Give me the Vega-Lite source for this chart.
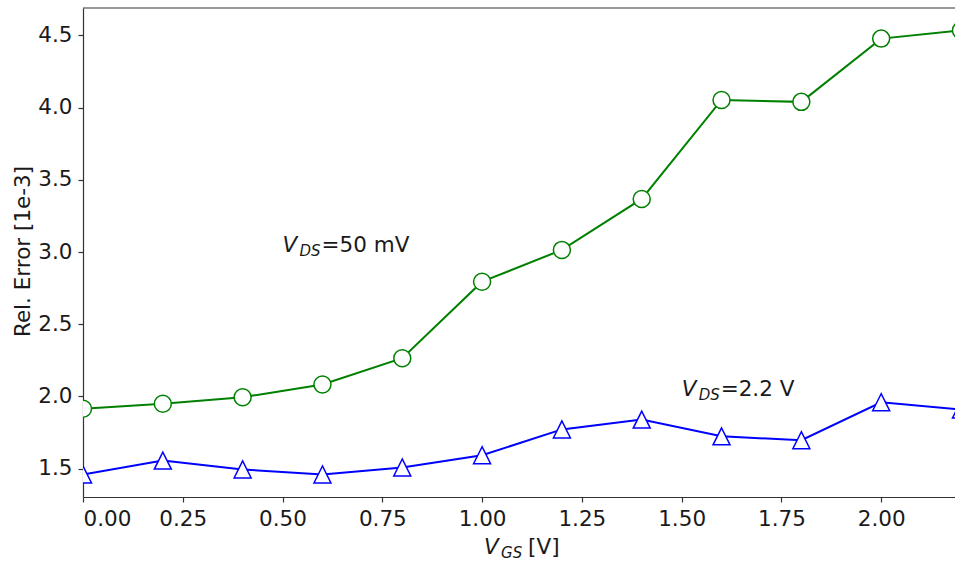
{
  "$schema": "https://vega.github.io/schema/vega-lite/v6.json",
  "autosize": {"type": "none"},
  "width": 872,
  "height": 489,
  "padding": {"left": 83, "top": 8, "right": 0, "bottom": 64},
  "background": "white",
  "config": {
    "font": "DejaVu Sans",
    "view": {"stroke": null},
    "axis": {
      "grid": false,
      "domainColor": "#333333",
      "domainWidth": 1.2,
      "tickColor": "#333333",
      "tickWidth": 1.2,
      "tickSize": 5,
      "labelFont": "DejaVu Sans",
      "labelFontSize": 21.5,
      "labelColor": "#1a1a1a",
      "titleFont": "DejaVu Sans",
      "titleFontSize": 21.5,
      "titleFontWeight": "normal",
      "titleColor": "#1a1a1a"
    }
  },
  "datasets": {
    "series": [
      {"vgs": 0.0, "err": 1.915, "curve": "VDS=50 mV"},
      {"vgs": 0.2, "err": 1.95, "curve": "VDS=50 mV"},
      {"vgs": 0.4, "err": 1.995, "curve": "VDS=50 mV"},
      {"vgs": 0.6, "err": 2.083, "curve": "VDS=50 mV"},
      {"vgs": 0.8, "err": 2.265, "curve": "VDS=50 mV"},
      {"vgs": 1.0, "err": 2.795, "curve": "VDS=50 mV"},
      {"vgs": 1.2, "err": 3.015, "curve": "VDS=50 mV"},
      {"vgs": 1.4, "err": 3.368, "curve": "VDS=50 mV"},
      {"vgs": 1.6, "err": 4.053, "curve": "VDS=50 mV"},
      {"vgs": 1.8, "err": 4.04, "curve": "VDS=50 mV"},
      {"vgs": 2.0, "err": 4.478, "curve": "VDS=50 mV"},
      {"vgs": 2.2, "err": 4.535, "curve": "VDS=50 mV"},
      {"vgs": 0.0, "err": 1.46, "curve": "VDS=2.2 V"},
      {"vgs": 0.2, "err": 1.556, "curve": "VDS=2.2 V"},
      {"vgs": 0.4, "err": 1.495, "curve": "VDS=2.2 V"},
      {"vgs": 0.6, "err": 1.46, "curve": "VDS=2.2 V"},
      {"vgs": 0.8, "err": 1.508, "curve": "VDS=2.2 V"},
      {"vgs": 1.0, "err": 1.593, "curve": "VDS=2.2 V"},
      {"vgs": 1.2, "err": 1.772, "curve": "VDS=2.2 V"},
      {"vgs": 1.4, "err": 1.84, "curve": "VDS=2.2 V"},
      {"vgs": 1.6, "err": 1.724, "curve": "VDS=2.2 V"},
      {"vgs": 1.8, "err": 1.697, "curve": "VDS=2.2 V"},
      {"vgs": 2.0, "err": 1.96, "curve": "VDS=2.2 V"},
      {"vgs": 2.2, "err": 1.91, "curve": "VDS=2.2 V"}
    ],
    "notes": [
      {"vgs": 0.5, "err": 3.0, "v": "V", "sub": "DS", "rest": "=50 mV"},
      {"vgs": 1.5, "err": 2.0, "v": "V", "sub": "DS", "rest": "=2.2 V"}
    ],
    "xtitle": [
      {"vgs": 1.005, "err": 0.909, "v": "V", "sub": "GS", "rest": "[V]"}
    ],
    "frame": [
      {"err": 4.69}
    ]
  },
  "encoding": {
    "x": {
      "field": "vgs",
      "type": "quantitative",
      "scale": {"domain": [0, 2.185], "nice": false, "zero": false},
      "axis": {
        "title": null,
        "values": [0, 0.25, 0.5, 0.75, 1.0, 1.25, 1.5, 1.75, 2.0],
        "format": ".2f",
        "labelPadding": 6
      }
    },
    "y": {
      "field": "err",
      "type": "quantitative",
      "scale": {"domain": [1.304, 4.69], "nice": false, "zero": false},
      "axis": {
        "title": "Rel. Error [1e-3]",
        "values": [1.5, 2.0, 2.5, 3.0, 3.5, 4.0, 4.5],
        "format": ".1f",
        "labelPadding": 6,
        "titleX": -54,
        "titleY": 243,
        "titleBaseline": "alphabetic",
        "titleAngle": -90
      }
    }
  },
  "layer": [
    {
      "data": {"name": "series"},
      "mark": {"type": "line", "strokeWidth": 2, "clip": true},
      "encoding": {
        "color": {
          "field": "curve",
          "type": "nominal",
          "scale": {"domain": ["VDS=50 mV", "VDS=2.2 V"], "range": ["#008000", "#0000ff"]},
          "legend": null
        }
      }
    },
    {
      "data": {"name": "series"},
      "mark": {"type": "point", "filled": false, "fill": "white", "fillOpacity": 1, "opacity": 1, "size": 289, "strokeWidth": 1.5, "clip": true},
      "encoding": {
        "color": {
          "field": "curve",
          "type": "nominal",
          "scale": {"domain": ["VDS=50 mV", "VDS=2.2 V"], "range": ["#008000", "#0000ff"]},
          "legend": null
        },
        "shape": {
          "field": "curve",
          "type": "nominal",
          "scale": {"domain": ["VDS=50 mV", "VDS=2.2 V"], "range": ["circle", "M0,-1L-1,1L1,1Z"]},
          "legend": null
        }
      }
    },
    {
      "data": {"name": "frame"},
      "mark": {"type": "rule", "stroke": "#333333", "strokeWidth": 1.2},
      "encoding": {
        "x": null,
        "y": {"field": "err", "type": "quantitative"}
      }
    },
    {
      "data": {"name": "notes"},
      "mark": {"type": "text", "align": "left", "baseline": "alphabetic", "fontSize": 21.5, "fontStyle": "italic", "color": "#1a1a1a"},
      "encoding": {"text": {"field": "v"}}
    },
    {
      "data": {"name": "notes"},
      "mark": {"type": "text", "align": "left", "baseline": "alphabetic", "fontSize": 15, "fontStyle": "italic", "color": "#1a1a1a", "dx": 17, "dy": 4},
      "encoding": {"text": {"field": "sub"}}
    },
    {
      "data": {"name": "notes"},
      "mark": {"type": "text", "align": "left", "baseline": "alphabetic", "fontSize": 21.5, "color": "#1a1a1a", "dx": 39},
      "encoding": {"text": {"field": "rest"}}
    },
    {
      "data": {"name": "xtitle"},
      "mark": {"type": "text", "align": "left", "baseline": "alphabetic", "fontSize": 21.5, "fontStyle": "italic", "color": "#1a1a1a"},
      "encoding": {"text": {"field": "v"}}
    },
    {
      "data": {"name": "xtitle"},
      "mark": {"type": "text", "align": "left", "baseline": "alphabetic", "fontSize": 15, "fontStyle": "italic", "color": "#1a1a1a", "dx": 17, "dy": 4},
      "encoding": {"text": {"field": "sub"}}
    },
    {
      "data": {"name": "xtitle"},
      "mark": {"type": "text", "align": "left", "baseline": "alphabetic", "fontSize": 21.5, "color": "#1a1a1a", "dx": 44},
      "encoding": {"text": {"field": "rest"}}
    }
  ]
}
